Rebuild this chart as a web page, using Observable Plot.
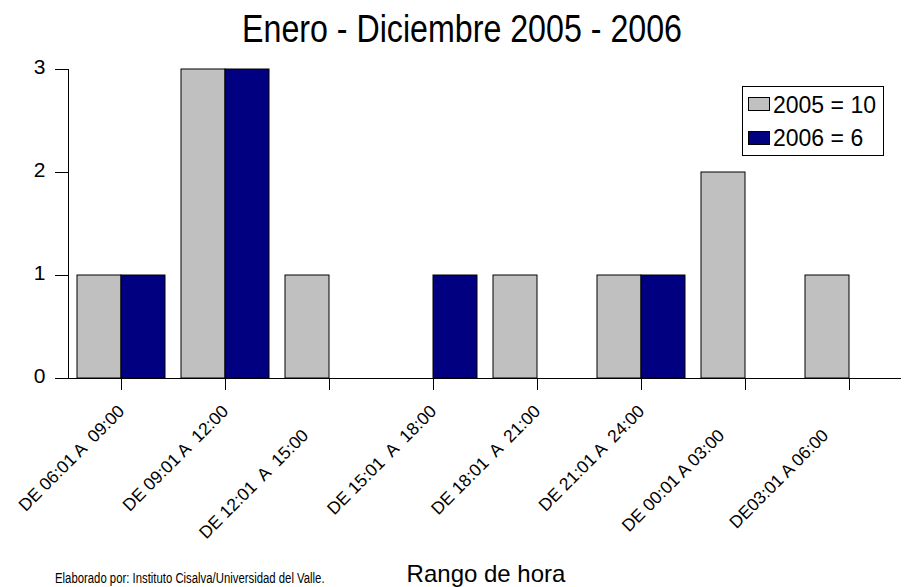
<!DOCTYPE html>
<html>
<head>
<meta charset="utf-8">
<script src="https://cdn.jsdelivr.net/npm/d3@7"></script>
<script src="https://cdn.jsdelivr.net/npm/@observablehq/plot@0.6"></script>
<style>
  html, body { margin: 0; padding: 0; background: #fff; }
  #wrap { position: relative; width: 906px; height: 587px; overflow: hidden; font-family: "Liberation Sans", Arial, sans-serif; color: #000; }
  #wrap svg text { white-space: pre; }
  .abs { position: absolute; white-space: pre; line-height: 1; }
</style>
</head>
<body>
<div id="wrap"></div>
<script>
// ---- data ----
const title = "Enero - Diciembre 2005 - 2006";
const xTitle = "Rango de hora";
const caption = "Elaborado por: Instituto Cisalva/Universidad del Valle.";
const categories = [
  "DE 06:01 A  09:00",
  "DE 09:01 A  12:00",
  "DE 12:01  A  15:00       ",
  "DE 15:01  A  18:00",
  "DE 18:01  A  21:00",
  "DE 21:01 A  24:00",
  "DE 00:01 A 03:00       ",
  "DE03:01 A 06:00       "
];
const seriesNames = ["2005", "2006"];
const values2005 = [1, 3, 1, 0, 1, 1, 2, 1];
const values2006 = [1, 3, 0, 1, 0, 1, 0, 0];
const seriesColors = ["#c0c0c0", "#000080"];
const yTicks = [0, 1, 2, 3];

const rows2005 = categories.map((c, i) => ({cat: c, value: values2005[i]})).filter(d => d.value > 0);
const rows2006 = categories.map((c, i) => ({cat: c, value: values2006[i]})).filter(d => d.value > 0);

const W = 906, H = 587;
const chart = Plot.plot({
  width: W,
  height: H,
  marginTop: 69,
  marginBottom: 209,
  marginLeft: 68,
  marginRight: 5,
  style: {fontFamily: "'Liberation Sans', Arial, sans-serif", fontSize: "17px", background: "white", color: "black"},
  x: {domain: categories, paddingInner: 16 / 104, paddingOuter: 8 / 104, label: null},
  y: {domain: [0, 3], label: null},
  marks: [
    Plot.barY(rows2005, {x: "cat", y: "value", fill: seriesColors[0], stroke: "black", strokeWidth: 1, insetRight: 44}),
    Plot.barY(rows2006, {x: "cat", y: "value", fill: seriesColors[1], stroke: "black", strokeWidth: 1, insetLeft: 44}),
    Plot.frame({anchor: "left", stroke: "black"}),
    Plot.ruleY([0], {stroke: "black"}),
    // tick marks
    Plot.axisY({ticks: yTicks, tickSize: 13, tickFormat: () => "", label: null}),
    // tick labels (slightly raised, as in the reference)
    Plot.axisY({ticks: yTicks, tickSize: 0, tickPadding: 23, dy: -2, fontSize: 21, tickFormat: d => String(d), label: null}),
    Plot.axisX({tickSize: 12, tickRotate: -45, tickPadding: 18, dx: 0, fontSize: 17.5, label: null})
  ]
});

const wrap = document.getElementById("wrap");
wrap.appendChild(chart);

function addText(txt, {left, top, size, scaleX = 1, anchor = "start"}) {
  const d = document.createElement("div");
  d.className = "abs";
  d.textContent = txt;
  d.style.left = left + "px";
  d.style.top = top + "px";
  d.style.fontSize = size + "px";
  if (anchor === "middle") {
    d.style.transformOrigin = "center top";
    d.style.transform = `translateX(-50%) scaleX(${scaleX})`;
  } else {
    d.style.transformOrigin = "left top";
    d.style.transform = `scaleX(${scaleX})`;
  }
  wrap.appendChild(d);
  return d;
}

// title (condensed face)
addText(title, {left: 462, top: 9, size: 39, scaleX: 0.825, anchor: "middle"});
// x title
addText(xTitle, {left: 486, top: 562, size: 24, anchor: "middle"});
// caption (condensed)
addText(caption, {left: 55, top: 571, size: 14, scaleX: 0.81});

// legend
const totals = [d3.sum(values2005), d3.sum(values2006)];
const lg = document.createElement("div");
lg.style.cssText = "position:absolute;left:742px;top:86px;width:140px;height:68px;border:1px solid #000;background:#fff;";
wrap.appendChild(lg);
seriesNames.forEach((name, i) => {
  const sw = document.createElement("div");
  sw.style.cssText = `position:absolute;left:748px;top:${97 + i * 34}px;width:20px;height:12px;border:1px solid #000;background:${seriesColors[i]};`;
  wrap.appendChild(sw);
  addText(`${name} = ${totals[i]}`, {left: 773, top: 94 + i * 33, size: 23});
});
</script>
</body>
</html>
